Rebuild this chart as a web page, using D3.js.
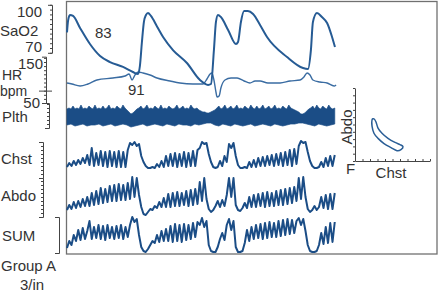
<!DOCTYPE html>
<html lang="en">
<head>
    <meta charset="utf-8">
    <title>Group A polysomnogram</title>
    <script type="text/javascript" src="https://d3js.org/d3.v7.min.js"></script>
    <style type="text/css">
        body { margin: 0; background: #fff; }
        text { font-family: "Liberation Sans", Arial, sans-serif; font-size: 15px; fill: #333; }
        .bracket path, .bracket line { stroke: #444; stroke-width: 1; }
    </style>
</head>
<body>
    <script type="text/javascript">

        const width = 438;
        const height = 294;

        // SaO2 (%) and HR (bpm), sampled at irregular times (sample index 0..119)
        const sao2Time = [0, 0.5, 1.3, 2.7, 5.8, 10.2, 14.7, 19.1, 24.9, 29.3, 31.6, 32.4, 33.3, 34.2, 35.1, 36, 37.3, 40, 42.7, 47.1, 53.3, 59.1, 62.7, 64, 65.3, 66.2, 67.1, 68.4, 71.6, 75.1, 76, 77.3, 78.7, 80.4, 82.7, 85.8, 88.9, 97.8, 104.9, 107.1, 108.4, 109.3, 111.1, 113.3, 115.6, 117.8, 119.1];
        const sao2Values = [83, 93, 97.5, 96.7, 86.7, 73.3, 63.3, 58.3, 54.2, 50, 48.3, 55, 75, 92, 97.5, 99.2, 96.7, 88, 79.2, 68.3, 57.5, 43.3, 39.2, 40, 68.3, 91.7, 97.5, 95.8, 85, 73.3, 75, 91.7, 100.8, 100.8, 98.3, 89.2, 79.2, 62.5, 53.3, 52.5, 68.3, 91.7, 99.2, 95.8, 90.8, 79.2, 70.8];

        const hrTime = [0, 2.2, 5.8, 9.3, 13.3, 20.4, 25.8, 27.6, 28.9, 30.2, 31.6, 33.8, 36.9, 40, 45.8, 50.2, 56, 60.4, 62.2, 63.6, 64.4, 65.3, 66.2, 66.7, 67.6, 68.4, 70.2, 72.9, 75.6, 78.7, 81.3, 83.6, 85.8, 89.3, 94.7, 99.1, 103.6, 105.3, 106.7, 108, 109.3, 112.4, 115.6, 118.7, 119.6];
        const hrValues = [98.8, 96.3, 91.5, 96.3, 106.1, 111, 115.9, 120.7, 106.1, 118.3, 125.6, 123.2, 118.3, 111, 103.7, 98.8, 96.3, 96.3, 108.5, 120.7, 123.2, 106.1, 76.8, 64.6, 67.1, 86.6, 106.1, 111, 111, 103.7, 98.8, 103.7, 103.7, 98.8, 98.8, 103.7, 106.1, 113.4, 123.2, 118.3, 106.1, 101.2, 98.8, 91.5, 94];

        // plethysmograph envelope (arbitrary units): upper edge finer than lower edge
        const plthTop = [8, 9, 8, 11, 8, 9, 8, 12, 8, 9,
            8, 11, 9, 8, 12, 8, 9, 8, 11, 8,
            9, 12, 8, 9, 8, 11, 9, 8, 12, 9,
            7, 5, 3, 4, 6, 8, 9, 11, 8, 9,
            12, 8, 9, 8, 11, 9, 8, 12, 8, 9,
            8, 11, 9, 8, 9, 12, 8, 9, 11, 8,
            9, 8, 12, 9, 8, 9, 7, 6, 5, 5,
            4, 4, 5, 6, 7, 9, 11, 8, 9, 12,
            8, 9, 11, 8, 9, 12, 8, 9, 8, 11,
            9, 8, 12, 9, 8, 11, 8, 9, 12, 8,
            9, 11, 8, 9, 12, 8, 9, 8, 11, 9,
            8, 12, 9, 8, 7, 6, 5, 3, 3, 4,
            6, 8, 9, 11, 8, 12, 9, 8, 11, 9,
            8, 12, 9, 8, 9];
        const plthBottom = [-8, -7, -9, -8, -7, -9, -8, -8, -7, -9, -8, -7, -9, -8, -7, -8, -10, -9, -8, -7, -9, -8, -7, -8, -9, -7, -8, -9, -7, -8, -8, -9, -7, -8, -7, -6, -6, -8, -9, -7, -8, -9, -7, -8, -9, -8, -7, -9, -8, -7, -8, -9, -7, -8, -9, -8, -7, -7, -6, -6, -7, -8, -9, -7, -8, -9, -8, -7];

        // respiratory effort (arbitrary units), one value per sample index 0..119
        const chst = [3, 7, 4, 9, 5, 10, 6, 12, 7,
            15, 5, 22, 4, 17, 5, 19, 4, 18, 3, 19, 4, 18, 3, 19, 3, 18, 3, 20,
            27, 25, 28, 24, 26,
            14, 8, 4, 2, 2, 3, 2, 6, 3, 9, 3,
            14, 4, 16, 4, 17, 3, 16, 4, 18, 3, 17, 4, 19, 4, 20,
            22, 28, 26, 27,
            16, 8, 3, 2, 3, 9, 4, 14, 8, 26, 22, 27, 14, 5, 2, 2, 3, 2,
            8, 3, 10, 3, 12, 4, 13, 4, 14, 5, 15, 4, 16, 5, 17, 4, 18, 5, 20, 4, 21, 6,
            24, 29, 27, 28,
            18, 9, 4, 2, 2, 3, 8, 3, 12, 4, 14, 4, 15];
        const abdo = [5, 10, 6, 13, 7, 14, 8, 16, 9,
            18, 9, 22, 10, 24, 11, 27, 12, 26, 13, 29, 14, 30, 14, 31, 15, 30, 15, 32,
            16, 38, 18, 37, 20,
            8, 1, 0, 3, 6, 5, 9, 7, 13, 8, 17, 8,
            21, 8, 22, 9, 23, 9, 22, 10, 24, 9, 25, 10, 26, 11,
            33, 14, 37, 16,
            6, 3, 5, 9, 14, 8, 15, 9, 20, 37, 18, 37, 10, 5, 4, 7, 12, 7,
            18, 8, 20, 8, 21, 9, 22, 8, 23, 9, 22, 9, 24, 10, 25, 10, 26, 11, 27, 12, 28, 14,
            37, 16, 38, 18,
            6, 3, 5, 9, 5, 8, 18, 7, 20, 6, 21, 6, 22];
        const sum = [7, 14, 10, 20, 14, 25, 15, 27, 16,
            24, 34, 16, 28, 17, 30, 16, 29, 15, 30, 17, 28, 16, 29, 17, 30, 16, 28, 18,
            30, 38, 33, 36, 20,
            8, 4, 3, 6, 10, 14, 12, 20, 13, 24, 14, 26,
            14, 29, 13, 31, 14, 30, 13, 31, 15, 30, 16, 32, 18, 33,
            30, 37, 28, 34,
            10, 4, 3, 3, 8, 16, 22, 15, 30, 36, 25, 34, 8, 3, 3, 4, 12, 25,
            14, 28, 16, 30, 17, 31, 16, 32, 17, 33, 18, 32, 18, 34, 19, 35, 20, 36, 21, 35, 22, 34,
            37, 30, 36, 24,
            10, 4, 3, 3, 4, 10, 22, 11, 28, 12, 32, 13, 33];

        // Abdo vs Chst loop for the inset
        const loopChst = [2.27, 2.27, 2.53, 3.07, 3.87, 4.8, 5.6, 6.13, 6.4, 6, 5.33, 4.4, 3.6, 3.07, 2.8, 2.53];
        const loopAbdo = [5.63, 4.79, 3.8, 3.1, 2.39, 1.83, 1.41, 1.55, 1.97, 2.25, 2.54, 3.1, 3.8, 4.51, 5.35, 5.77];

        const sao2Ticks = [70, 100];
        const hrTicks = [50, 150];

        const traceColor = "#1b4d86";

        const svg = d3.select("body")
                    .append("svg")
                    .attr("width", width)
                    .attr("height", height);

        // Scales
        const x = d3.scaleLinear().domain([0, 119]).range([67, 334.75]);
        const xTop = x.copy().domain([0, plthTop.length - 1]);
        const xBottom = x.copy().domain([0, plthBottom.length - 1]);

        const sao2Y = d3.scaleLinear().domain([70, 100]).range([48, 12]);
        const hrY = d3.scaleLinear().domain([50, 150]).range([103, 62]);
        const plthY = d3.scaleLinear().domain([-10, 10]).range([127, 107]);
        const chstY = d3.scaleLinear().domain([0, 30]).range([170, 140]);
        const abdoY = d3.scaleLinear().domain([0, 40]).range([215, 175]);
        const sumY = d3.scaleLinear().domain([0, 40]).range([255, 215]);

        const inX = d3.scaleLinear().domain([0, 10]).range([355, 430]);
        const inY = d3.scaleLinear().domain([0, 10]).range([161, 88]);

        // Frame
        svg.append("rect")
            .attr("x", 66.5).attr("y", 1.5)
            .attr("width", 370.5).attr("height", 252.5)
            .attr("fill", "none")
            .attr("stroke", "#707070")
            .attr("stroke-width", 1.3);

        // Left brackets (axes without labels)
        function bracket(scale, lo, hi, step, xPos, ticks = true) {
            const s = scale.copy().domain([lo, hi]).range([scale(lo), scale(hi)]);
            const ax = d3.axisLeft(s)
                .tickValues(ticks ? d3.range(lo, hi + 0.001, step) : [])
                .tickSize(2)
                .tickSizeOuter(4)
                .tickFormat("");
            svg.append("g")
                .attr("class", "bracket")
                .attr("transform", `translate(${xPos},0)`)
                .call(ax);
        }
        bracket(sao2Y, 66, 106, 4, 52);
        bracket(hrY, 50, 163, 10, 46);
        bracket(plthY, -11, 14, 4, 49);
        bracket(chstY, -8, 28, 4, 43);
        bracket(abdoY, -2, 37, 4, 43);
        bracket(sumY, 2, 38, 4, 59, false);

        svg.append("line")
            .attr("x1", 39).attr("x2", 52)
            .attr("y1", hrY(79)).attr("y2", hrY(79))
            .attr("stroke", "#444");

        // Tick labels
        svg.selectAll(".sao2lab")
            .data(sao2Ticks)
            .enter()
            .append("text")
            .attr("x", 42)
            .attr("y", d => sao2Y(d) + (d === 70 ? 4 : 5))
            .attr("text-anchor", "end")
            .text(d => d);

        svg.selectAll(".hrlab")
            .data(hrTicks)
            .enter()
            .append("text")
            .attr("x", d => d === 150 ? 43 : 40)
            .attr("y", d => hrY(d) + (d === 150 ? 7 : 5))
            .attr("text-anchor", "end")
            .text(d => d);

        // Channel names
        const names = [
            ["SaO2", 0, 36, 15], ["HR", 2, 80, 14], ["bpm", 0, 96, 14], ["Plth", 2, 122, 15],
            ["Chst", 1, 164, 15], ["Abdo", 1, 201, 15], ["SUM", 2, 241, 15],
            ["Group A", 1, 271, 15], ["3/in", 20, 290, 15]
        ];
        svg.selectAll(".name")
            .data(names)
            .enter()
            .append("text")
            .attr("x", d => d[1])
            .attr("y", d => d[2])
            .style("font-size", d => d[3] + "px")
            .text(d => d[0]);

        // Plth band: upper edge left to right, lower edge back
        const band = plthTop.map((v, i) => [xTop(i), plthY(v)])
            .concat(plthBottom.map((v, i) => [xBottom(i), plthY(v)]).reverse());
        svg.append("path")
            .datum(band)
            .attr("fill", traceColor)
            .attr("stroke", traceColor)
            .attr("stroke-width", 0.7)
            .attr("stroke-linejoin", "round")
            .attr("d", d3.line()(band) + "Z");

        // Respiratory traces
        [[chst, chstY], [abdo, abdoY], [sum, sumY]].forEach(([vals, yS]) => {
            svg.append("path")
                .datum(vals)
                .attr("fill", "none")
                .attr("stroke", traceColor)
                .attr("stroke-width", 2)
                .attr("stroke-linejoin", "round")
                .attr("d", d3.line()
                    .x((d, i) => x(i))
                    .y(d => yS(d)));
        });

        // HR line
        svg.append("path")
            .datum(hrTime.map((t, i) => [t, hrValues[i]]))
            .attr("fill", "none")
            .attr("stroke", "#3a6ca2")
            .attr("stroke-width", 1.4)
            .attr("d", d3.line()
                .curve(d3.curveMonotoneX)
                .x(d => x(d[0]))
                .y(d => hrY(d[1])));

        // SaO2 line
        svg.append("path")
            .datum(sao2Time.map((t, i) => [t, sao2Values[i]]))
            .attr("fill", "none")
            .attr("stroke", "#265b94")
            .attr("stroke-width", 2)
            .attr("d", d3.line()
                .curve(d3.curveMonotoneX)
                .x(d => x(d[0]))
                .y(d => sao2Y(d[1])));

        svg.append("text").attr("x", 95).attr("y", 38).text("83");
        svg.append("text").attr("x", 128).attr("y", 95).text("91");

        // Inset: Abdo vs Chst
        svg.append("g")
            .attr("class", "bracket")
            .attr("transform", `translate(${inX(0)},0)`)
            .call(d3.axisLeft(inY).ticks(10).tickSize(2).tickSizeOuter(0).tickFormat(""));
        svg.append("g")
            .attr("class", "bracket")
            .attr("transform", `translate(0,${inY(0)})`)
            .call(d3.axisTop(inX).ticks(10).tickSize(2).tickSizeOuter(0).tickFormat(""));

        svg.append("path")
            .datum(loopChst.map((c, i) => [c, loopAbdo[i]]))
            .attr("fill", "none")
            .attr("stroke", "#2a5e96")
            .attr("stroke-width", 1.5)
            .attr("d", d3.line()
                .curve(d3.curveCardinalClosed)
                .x(d => inX(d[0]))
                .y(d => inY(d[1])));

        svg.append("text")
            .attr("transform", "translate(352,127) rotate(-90)")
            .attr("text-anchor", "middle")
            .text("Abdo");
        svg.append("text").attr("x", 346).attr("y", 174).text("F");
        svg.append("text")
            .attr("x", 391).attr("y", 178)
            .attr("text-anchor", "middle")
            .text("Chst");

    </script>
</body>
</html>
